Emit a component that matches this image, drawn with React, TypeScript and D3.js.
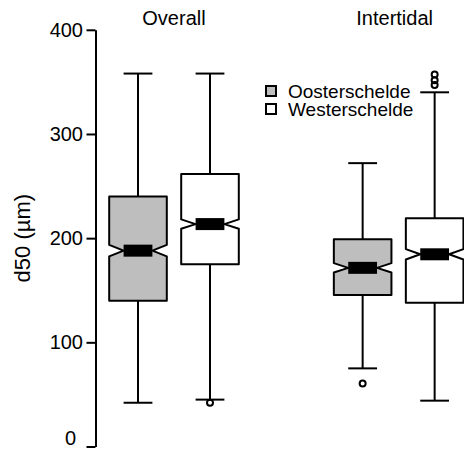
import React, { useEffect, useRef } from 'react';
import * as d3 from 'd3';

// chart values
const groups = ['Overall', 'Intertidal'];
const sites = ['Oosterschelde', 'Westerschelde'];
const siteFill = ['#BEBEBE', '#FFFFFF'];
const boxPositions = [1, 2, 4.12, 5.12];
const boxSite = [0, 1, 0, 1];
const boxGroup = [0, 0, 1, 1];
const lowerWhisker = [42, 45, 75, 44];
const q1 = [140, 175, 145.5, 138];
const median = [188, 213.5, 171.5, 184.5];
const q3 = [240, 261.5, 199, 219];
const upperWhisker = [358, 358, 272, 340];
const notchHalf = [5.5, 4.5, 4.5, 5];
const outliers = [[], [42], [60.5], [347, 351.5, 357]];
const yTicks = [0, 100, 200, 300, 400];

const W = 464;
const H = 453;
const FONT = '"Liberation Sans", Arial, Helvetica, sans-serif';

export default function App() {
  const axisRef = useRef<SVGGElement>(null);

  const x = d3.scaleLinear().domain([0, 6]).range([66, 498]);
  const y = d3.scaleLinear().domain([0, 400]).range([446.5, 29.8]);
  const hw = (x(1) - x(0)) * 0.4;

  useEffect(() => {
    if (!axisRef.current) return;
    const g = d3.select(axisRef.current);
    g.selectAll('*').remove();
    g.call(
      d3.axisLeft(y).tickValues(yTicks).tickSize(9).tickSizeOuter(0).tickPadding(3.5)
    );
    g.select('.domain').attr('stroke-width', 2);
    g.selectAll('.tick line').attr('stroke-width', 2);
    // the bottom label sits a little up and in, so it is not clipped
    g.selectAll('.tick text')
      .attr('font-size', 20)
      .attr('font-family', FONT)
      .attr('x', (d: any) => (d === 0 ? -19.5 : -12.5))
      .attr('y', (d: any) => (d === 0 ? -8 : 0));
  }, []);

  return (
    <svg
      width={W}
      height={H}
      style={{ position: 'absolute', left: 0, top: 0, background: '#fff' }}
      fontFamily={FONT}
    >
      <g ref={axisRef} transform="translate(95.5,0)" />

      <text
        transform={`translate(29.5,${(y(0) + y(400)) / 2}) rotate(-90)`}
        textAnchor="middle"
        fontSize={22}
      >
        d50 (µm)
      </text>

      {groups.map((g, gi) => {
        const pos = boxPositions.filter((_, i) => boxGroup[i] === gi);
        const cx = x(d3.mean(pos) as number);
        return (
          <text key={g} x={cx - (gi === 1 ? 4 : 0)} y={25} textAnchor="middle" fontSize={20}>
            {g}
          </text>
        );
      })}

      {boxPositions.map((p, i) => {
        const cx = x(p);
        const l = cx - hw;
        const r = cx + hw;
        const nl = cx - hw / 2;
        const nr = cx + hw / 2;
        const yM = y(median[i]);
        const yNT = y(median[i] + notchHalf[i]);
        const yNB = y(median[i] - notchHalf[i]);
        const path = d3.path();
        path.moveTo(l, y(q1[i]));
        path.lineTo(l, yNB);
        path.lineTo(nl, yM);
        path.lineTo(l, yNT);
        path.lineTo(l, y(q3[i]));
        path.lineTo(r, y(q3[i]));
        path.lineTo(r, yNT);
        path.lineTo(nr, yM);
        path.lineTo(r, yNB);
        path.lineTo(r, y(q1[i]));
        path.closePath();
        const cap = hw / 2;
        return (
          <g key={i} stroke="#000" strokeWidth={2}>
            <line x1={cx} x2={cx} y1={y(q3[i])} y2={y(upperWhisker[i])} />
            <line x1={cx} x2={cx} y1={y(q1[i])} y2={y(lowerWhisker[i])} />
            <line x1={cx - cap} x2={cx + cap} y1={y(upperWhisker[i])} y2={y(upperWhisker[i])} />
            <line x1={cx - cap} x2={cx + cap} y1={y(lowerWhisker[i])} y2={y(lowerWhisker[i])} />
            <path d={path.toString()} fill={siteFill[boxSite[i]]} strokeLinejoin="round" />
            <line x1={nl} x2={nr} y1={yM} y2={yM} strokeWidth={12} />
            {outliers[i].map((o, k) => (
              <circle key={k} cx={cx} cy={y(o)} r={3} fill="none" />
            ))}
          </g>
        );
      })}

      {sites.map((s, si) => (
        <g key={s} transform={`translate(271,${91 + si * 18})`}>
          <rect x={-5} y={-5} width={10} height={10} fill={siteFill[si]} stroke="#000" strokeWidth={2} />
          <text x={17} y={6.5} fontSize={19}>
            {s}
          </text>
        </g>
      ))}
    </svg>
  );
}
